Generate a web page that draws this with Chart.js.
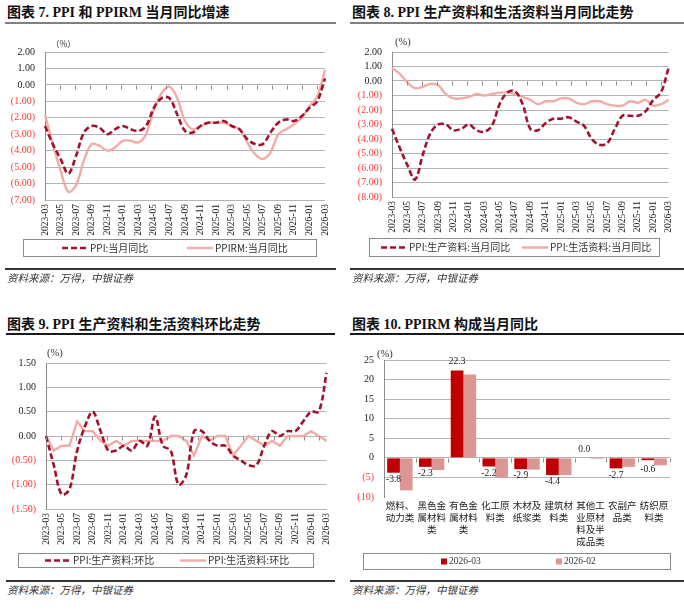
<!DOCTYPE html>
<html>
<head>
<meta charset="utf-8">
<script src="https://cdn.jsdelivr.net/npm/chart.js@4.4.1/dist/chart.umd.min.js"></script>
<style>
body{margin:0;width:684px;height:612px;background:#fff;position:relative;overflow:hidden;font-family:"Liberation Serif","Noto Sans CJK SC",serif;}
.title{position:absolute;font-size:14px;font-weight:bold;color:#111;white-space:nowrap;line-height:16px;}
.rule{position:absolute;height:2px;}
.src{position:absolute;font-size:10.5px;line-height:13px;font-style:italic;color:#333;font-family:"Noto Sans CJK SC",sans-serif;white-space:nowrap;}
canvas{position:absolute;}
</style>
</head>
<body>
<div class="title" style="left:7px;top:5px">图表 7. PPI 和 PPIRM 当月同比增速</div>
<div class="rule" style="left:5px;top:22px;width:331px;background:#808080"></div>
<div class="title" style="left:352px;top:5px">图表 8. PPI 生产资料和生活资料当月同比走势</div>
<div class="rule" style="left:350px;top:22px;width:334px;background:#808080"></div>
<div class="title" style="left:7px;top:317px">图表 9. PPI 生产资料和生活资料环比走势</div>
<div class="rule" style="left:6px;top:333px;width:329px;background:#1a1a1a"></div>
<div class="title" style="left:352px;top:317px">图表 10. PPIRM 构成当月同比</div>
<div class="rule" style="left:350px;top:333px;width:334px;background:#1a1a1a"></div>

<canvas id="c7" width="342" height="240" style="left:0;top:30px"></canvas>
<canvas id="c8" width="342" height="240" style="left:342px;top:30px"></canvas>
<canvas id="c9" width="342" height="240" style="left:0;top:340px"></canvas>
<canvas id="c10" width="342" height="240" style="left:342px;top:340px"></canvas>

<div class="rule" style="left:5px;top:268px;width:331px;background:#333"></div>
<div class="rule" style="left:350px;top:268px;width:334px;background:#333"></div>
<div class="rule" style="left:6px;top:580px;width:329px;background:#333"></div>
<div class="rule" style="left:350px;top:580px;width:334px;background:#333"></div>
<div class="src" style="left:7px;top:271px">资料来源：万得，中银证券</div>
<div class="src" style="left:352px;top:271px">资料来源：万得，中银证券</div>
<div class="src" style="left:7px;top:583px">资料来源：万得，中银证券</div>
<div class="src" style="left:352px;top:583px">资料来源：万得，中银证券</div>

<script>
const months = [
    '2023-03', '2023-04', '2023-05', '2023-06', '2023-07', '2023-08', '2023-09', '2023-10', '2023-11', '2023-12',
    '2024-01', '2024-02', '2024-03', '2024-04', '2024-05', '2024-06', '2024-07', '2024-08', '2024-09', '2024-10',
    '2024-11', '2024-12', '2025-01', '2025-02', '2025-03', '2025-04', '2025-05', '2025-06', '2025-07', '2025-08',
    '2025-09', '2025-10', '2025-11', '2025-12', '2026-01', '2026-02', '2026-03',
];

// 图表7
const ppiYoy = [-2.5, -3.6, -4.5, -5.4, -4.3, -2.9, -2.5, -2.6, -3.0, -2.7, -2.5, -2.7, -2.8, -2.5, -1.4, -0.8, -0.8, -1.8, -2.8, -2.9, -2.5, -2.3, -2.3, -2.2, -2.5, -2.7, -3.3, -3.6, -3.6, -2.9, -2.3, -2.1, -2.2, -1.9, -1.4, -1.0, 0.4];
const ppirmYoy = [-1.8, -3.6, -5.2, -6.5, -6.1, -4.6, -3.6, -3.7, -4.0, -3.8, -3.4, -3.4, -3.5, -3.0, -1.5, -0.5, -0.1, -0.8, -2.2, -2.7, -2.5, -2.3, -2.3, -2.3, -2.5, -2.7, -3.5, -4.2, -4.5, -4.1, -3.0, -2.7, -2.4, -2.0, -1.3, -0.7, 0.9];

// 图表8
const prodYoy = [-3.3, -4.6, -5.8, -6.8, -5.1, -3.6, -3.0, -3.0, -3.4, -3.3, -3.0, -3.4, -3.5, -3.1, -1.6, -0.8, -0.7, -1.6, -3.3, -3.4, -2.9, -2.6, -2.6, -2.5, -2.8, -3.1, -4.0, -4.4, -4.3, -3.3, -2.4, -2.4, -2.4, -2.1, -1.3, -0.8, 0.9];
const livingYoy = [0.9, 0.5, -0.1, -0.5, -0.4, -0.2, -0.3, -0.9, -1.2, -1.2, -1.1, -0.9, -1.0, -0.9, -0.8, -0.8, -0.9, -1.1, -1.3, -1.6, -1.4, -1.4, -1.2, -1.2, -1.5, -1.6, -1.4, -1.4, -1.6, -1.7, -1.7, -1.4, -1.5, -1.3, -1.7, -1.6, -1.3];

// 图表9
const prodMom = [0.0, -0.6, -1.2, -1.1, -0.3, 0.2, 0.5, 0.1, -0.3, -0.3, -0.2, -0.3, -0.1, -0.2, 0.4, -0.2, -0.3, -1.0, -0.8, 0.1, 0.1, -0.1, -0.2, -0.2, -0.4, -0.5, -0.6, -0.6, -0.2, 0.1, 0.0, 0.1, 0.1, 0.3, 0.5, 0.5, 1.3];
const livingMom = [0.0, -0.3, -0.2, -0.2, 0.3, 0.1, 0.1, -0.1, -0.2, -0.1, -0.2, -0.1, -0.1, -0.1, -0.1, -0.1, 0.0, 0.0, -0.1, -0.4, 0.0, -0.1, 0.0, 0.0, -0.4, -0.2, 0.0, -0.1, -0.2, -0.1, -0.2, 0.0, 0.0, 0.0, 0.1, 0.0, -0.1];

// 图表10
const ppirmCats = [
    ['燃料、', '动力类'],
    ['黑色金', '属材料', '类'],
    ['有色金', '属材料', '类'],
    ['化工原', '料类'],
    ['木材及', '纸浆类'],
    ['建筑材', '料类'],
    ['其他工', '业原材', '料及半', '成品类'],
    ['农副产', '品类'],
    ['纺织原', '料类'],
];
const ppirmMar = [-3.8, -2.3, 22.3, -2.2, -2.9, -4.4, 0.0, -2.7, -0.6];
const ppirmFeb = [-8.3, -3.1, 21.3, -5.0, -3.0, -4.4, -0.3, -2.3, -1.9];

const DARK = '#a3112f';
const PINK = '#f2aca6';
const NEG = '#ff3838';

Chart.defaults.font.family = 'Liberation Serif';
Chart.defaults.animation = false;

const paren = (v, d) => (v < 0 ? `(${Math.abs(v).toFixed(d)})` : v.toFixed(d));

// 图例外框和图例项
const boxLegend = {
    id: 'boxLegend',
    afterDraw(chart, args, opts) {
        const { ctx } = chart;
        ctx.save();
        ctx.strokeStyle = '#8c8c8c';
        ctx.lineWidth = 1;
        ctx.strokeRect(opts.x0 + 0.5, opts.y0 + 0.5, opts.x1 - opts.x0, opts.y1 - opts.y0);
        const cy = (opts.y0 + opts.y1) / 2 + 0.5;
        ctx.font = opts.font;
        ctx.textBaseline = 'middle';
        chart.data.datasets.forEach((ds, i) => {
            const x = opts.items[i];
            let tx;
            if (opts.square) {
                ctx.fillStyle = ds.backgroundColor;
                ctx.fillRect(x, cy - 3, 6, 6);
                tx = x + 8;
            } else {
                ctx.strokeStyle = ds.borderColor;
                ctx.lineWidth = ds.borderWidth;
                ctx.setLineDash(ds.borderDash || []);
                ctx.beginPath();
                ctx.moveTo(x, cy);
                ctx.lineTo(x + 26, cy);
                ctx.stroke();
                ctx.setLineDash([]);
                tx = x + 28;
            }
            ctx.fillStyle = '#333';
            ctx.fillText(ds.label, tx, cy);
        });
        ctx.restore();
    },
};

// (%) 标注
const unitLabel = {
    id: 'unitLabel',
    afterDraw(chart, args, opts) {
        const { ctx, chartArea } = chart;
        ctx.save();
        ctx.font = opts.font;
        ctx.fillStyle = '#333';
        ctx.textBaseline = 'middle';
        ctx.fillText(opts.text, chartArea.left + opts.dx, chartArea.top + opts.dy);
        ctx.restore();
    },
};

// 零轴上的小刻度
const zeroTicks = {
    id: 'zeroTicks',
    afterDraw(chart, args, opts) {
        const { ctx } = chart;
        const xs = chart.scales.x;
        const y0 = Math.round(chart.scales.y.getPixelForValue(0)) + 0.5;
        const n = chart.data.labels.length;
        const step = xs.width / n;
        ctx.save();
        ctx.strokeStyle = '#8c8c8c';
        ctx.lineWidth = 1;
        ctx.beginPath();
        for (let k = 0; k <= n; k += opts.every) {
            const x = Math.round(xs.left + k * step) + 0.5;
            ctx.moveTo(x, y0);
            ctx.lineTo(x, y0 + 4);
        }
        ctx.stroke();
        ctx.restore();
    },
};

// 柱状图数值标签（仅第一组）
const barValues = {
    id: 'barValues',
    afterDatasetsDraw(chart) {
        const { ctx } = chart;
        const zeroY = chart.scales.y.getPixelForValue(0);
        const meta = chart.getDatasetMeta(0);
        ctx.save();
        ctx.font = '9.5px "Liberation Serif"';
        ctx.fillStyle = '#222';
        ctx.textAlign = 'center';
        meta.data.forEach((bar, i) => {
            const v = chart.data.datasets[0].data[i];
            if (v >= 0) {
                ctx.textBaseline = 'bottom';
                ctx.fillText(v.toFixed(1), bar.x, Math.min(bar.y, zeroY) - 4);
            } else {
                ctx.textBaseline = 'top';
                ctx.fillText(v.toFixed(1), bar.x, Math.max(bar.y + 2, zeroY + 7));
            }
        });
        ctx.restore();
    },
};

function lineChart(id, series, cfg) {
    return new Chart(document.getElementById(id), {
        type: 'line',
        data: {
            labels: months,
            datasets: series.map((s) => ({
                label: s.label,
                data: s.data,
                borderColor: s.color,
                borderWidth: s.dashed ? 2.6 : 2.4,
                borderDash: s.dashed ? [6, 3] : undefined,
                tension: s.tension,
                pointRadius: 0,
                fill: false,
            })),
        },
        options: {
            responsive: false,
            events: [],
            layout: { padding: cfg.padding },
            plugins: {
                legend: { display: false },
                tooltip: { enabled: false },
                boxLegend: cfg.legend,
                unitLabel: cfg.unit,
                zeroTicks: { every: 2 },
            },
            scales: {
                x: {
                    grid: { display: false, drawTicks: false },
                    border: { display: false },
                    ticks: {
                        autoSkip: false,
                        minRotation: 90,
                        maxRotation: 90,
                        padding: 4,
                        color: '#222',
                        font: { size: 9.5 },
                        callback: (v, i) => (i % 2 === 0 ? months[i] : ''),
                    },
                    afterFit: (s) => { s.height = 36; },
                },
                y: {
                    min: cfg.min,
                    max: cfg.max,
                    ticks: {
                        stepSize: cfg.step,
                        autoSkip: false,
                        padding: 10,
                        font: { size: 10 },
                        color: (c) => (c.tick.value < 0 ? NEG : '#222'),
                        callback: (v) => paren(v, 2),
                    },
                    grid: { color: '#b4b4b4', drawTicks: false },
                    border: { color: '#8c8c8c' },
                    afterFit: (s) => { s.width = cfg.yW; },
                },
            },
        },
        plugins: [boxLegend, unitLabel, zeroTicks],
    });
}

const legendFont = '10px "Noto Sans CJK SC"';

lineChart('c7', [
    { label: 'PPI:当月同比', data: ppiYoy, color: DARK, dashed: true, tension: 0.35 },
    { label: 'PPIRM:当月同比', data: ppirmYoy, color: PINK, dashed: false, tension: 0.35 },
], {
    min: -7, max: 2, step: 1, yW: 45,
    padding: { left: 0, right: 17, top: 22, bottom: 34 },
    legend: { x0: 23, x1: 316, y0: 209, y1: 226, items: [62, 187], font: legendFont },
    unit: { text: '（%）', dx: 6, dy: -8, font: '8.5px "Noto Sans CJK SC"' },
});

lineChart('c8', [
    { label: 'PPI:生产资料:当月同比', data: prodYoy, color: DARK, dashed: true, tension: 0.35 },
    { label: 'PPI:生活资料:当月同比', data: livingYoy, color: PINK, dashed: false, tension: 0.35 },
], {
    min: -8, max: 2, step: 1, yW: 50,
    padding: { left: 0, right: 14, top: 22, bottom: 37 },
    legend: { x0: 27, x1: 317, y0: 208, y1: 226, items: [39, 180], font: legendFont },
    unit: { text: '(%)', dx: 3, dy: -10, font: '10.5px "Liberation Serif"' },
});

lineChart('c9', [
    { label: 'PPI:生产资料:环比', data: prodMom, color: DARK, dashed: true, tension: 0.35 },
    { label: 'PPI:生活资料:环比', data: livingMom, color: PINK, dashed: false, tension: 0 },
], {
    min: -1.5, max: 1.5, step: 0.5, yW: 46,
    padding: { left: 0, right: 15, top: 23, bottom: 35 },
    legend: { x0: 18, x1: 313, y0: 213, y1: 227, items: [45, 180], font: legendFont },
    unit: { text: '(%)', dx: 1, dy: -10, font: '10.5px "Liberation Serif"' },
});

new Chart(document.getElementById('c10'), {
    type: 'bar',
    data: {
        labels: ppirmCats,
        datasets: [
            { label: '2026-03', data: ppirmMar, backgroundColor: '#c00000', categoryPercentage: 0.8, barPercentage: 1 },
            { label: '2026-02', data: ppirmFeb, backgroundColor: '#dc9696', categoryPercentage: 0.8, barPercentage: 1 },
        ],
    },
    options: {
        responsive: false,
        events: [],
        layout: { padding: { left: 0, right: 14, top: 20, bottom: 31 } },
        plugins: {
            legend: { display: false },
            tooltip: { enabled: false },
            boxLegend: { x0: 21, x1: 328, y0: 213, y1: 229, items: [99, 214], square: true, font: '9.5px "Liberation Serif"' },
            unitLabel: { text: '(%)', dx: -7, dy: -6, font: '10.5px "Liberation Serif"' },
            zeroTicks: { every: 1 },
        },
        scales: {
            x: {
                grid: { display: false, drawTicks: false },
                border: { display: false },
                ticks: {
                    autoSkip: false,
                    maxRotation: 0,
                    padding: 2,
                    color: '#222',
                    font: { family: 'Noto Sans CJK SC', size: 9.5, lineHeight: 1.28 },
                },
                afterFit: (s) => { s.height = 52; },
            },
            y: {
                min: -10,
                max: 25,
                ticks: {
                    stepSize: 5,
                    autoSkip: false,
                    padding: 10,
                    font: { size: 10 },
                    color: (c) => (c.tick.value < 0 ? NEG : '#222'),
                    callback: (v) => paren(v, 0),
                },
                grid: { color: (c) => (c.tick.value === -10 ? 'rgba(0,0,0,0)' : '#b4b4b4'), drawTicks: false },
                border: { color: '#8c8c8c' },
                afterFit: (s) => { s.width = 42; },
            },
        },
    },
    plugins: [boxLegend, unitLabel, zeroTicks, barValues],
});
</script>
</body>
</html>
